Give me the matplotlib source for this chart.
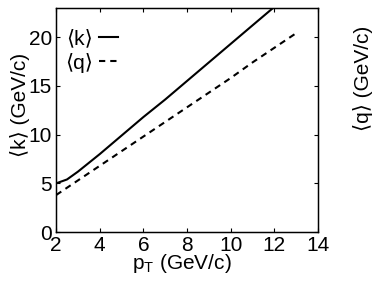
import numpy as np
import matplotlib
matplotlib.use("Agg")
import matplotlib.pyplot as plt

plt.rcParams['font.family'] = ['Liberation Sans', 'DejaVu Sans']
plt.rcParams['mathtext.fontset'] = 'custom'
plt.rcParams['mathtext.rm'] = 'Liberation Sans'
plt.rcParams['mathtext.it'] = 'Liberation Sans'

# mean parton momentum <k> and mean gluon momentum <q> vs pT
pt_k = [2.0, 2.5, 3.0, 3.5, 4.0, 5.0, 6.0, 7.0, 8.0, 9.0, 10.0, 11.0, 11.95]
k_mean = [5.0, 5.4, 6.2, 7.1, 8.0, 9.9, 11.8, 13.6, 15.5, 17.4, 19.3, 21.2, 23.0]

pt_q = [2.0, 3.0, 4.0, 5.0, 6.0, 7.0, 8.0, 9.0, 10.0, 11.0, 12.0, 13.0]
q_mean = [3.8, 5.3, 6.8, 8.3, 9.8, 11.3, 12.8, 14.3, 15.8, 17.4, 18.9, 20.4]

fs = 15

fig = plt.figure(figsize=(3.74, 2.81), dpi=100)
ax = fig.add_axes([0.150, 0.174, 0.700, 0.798])

ax.plot(pt_k, k_mean, color='k', lw=1.5, label='⟨k⟩')
ax.plot(pt_q, q_mean, color='k', lw=1.5, dashes=(3, 2.4), label='⟨q⟩')

ax.set_xlim(2, 14)
ax.set_ylim(0, 23)
ax.set_xticks([2, 4, 6, 8, 10, 12, 14])
ax.set_yticks([0, 5, 10, 15, 20])
ax.tick_params(direction='in', top=True, right=True, labelsize=fs,
               length=3, width=0.8, pad=3)
for s in ax.spines.values():
    s.set_linewidth(1.0)

ax.set_xlabel(r'p$_\mathregular{T}$ (GeV/c)', fontsize=fs, va='center')
ax.xaxis.set_label_coords(0.481, -0.138)
ax.set_ylabel('⟨k⟩ (GeV/c)', fontsize=fs, va='center', ha='center')
ax.yaxis.set_label_coords(-0.137, 0.567)

ax2 = ax.twinx()
ax2.set_ylim(ax.get_ylim())
ax2.set_yticks([0, 5, 10, 15, 20])
ax2.set_yticklabels([])
ax2.tick_params(direction='in', length=3, width=0.8)
ax2.set_ylabel('⟨q⟩ (GeV/c)', fontsize=fs, va='center', ha='center')
ax2.yaxis.set_label_coords(1.172, 0.6875)

ax.legend(loc='upper left', bbox_to_anchor=(-0.013, 0.959), frameon=False,
          markerfirst=False, fontsize=fs, handlelength=0.9, handletextpad=0.3,
          labelspacing=0.2, borderaxespad=0, borderpad=0.6)

fig.savefig('out.png', dpi=100)
